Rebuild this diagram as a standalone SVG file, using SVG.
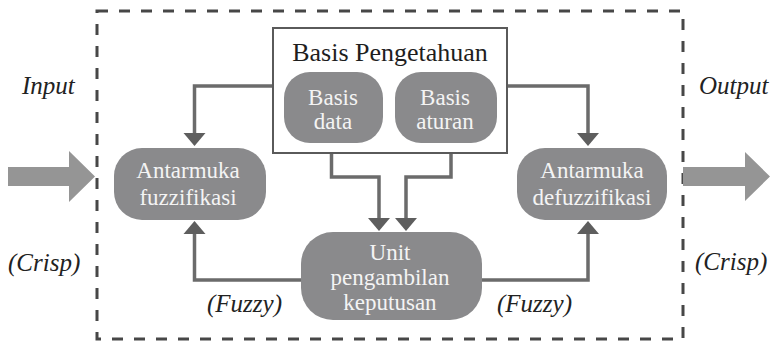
<svg xmlns="http://www.w3.org/2000/svg" width="777" height="342" viewBox="0 0 777 342">
<style>
.node{fill:#8a8a8c}
.nt{font-family:'Liberation Serif','Times New Roman','DejaVu Serif',serif;font-size:23px;fill:#f4f4f4;text-anchor:middle}
.lbl{font-family:'Liberation Serif','Times New Roman','DejaVu Serif',serif;font-size:25px;font-style:italic;fill:#222}
.title{font-family:'Liberation Serif','Times New Roman','DejaVu Serif',serif;font-size:26px;fill:#1e1e1e;text-anchor:middle}
.conn{fill:none;stroke:#6b6b6b;stroke-width:3.5}
.head{fill:#5e5e5e}
.big{fill:#959595}
</style>
<rect width="777" height="342" fill="#ffffff"/>
<rect x="97" y="11" width="586" height="328" fill="none" stroke="#474747" stroke-width="3" stroke-dasharray="11 11"/>
<g id="bigarrows">
<polygon class="big" points="8,167 69,167 69,151 95,176.5 69,202 69,186 8,186"/>
<polygon class="big" points="683,167 745,167 745,152 770,176.5 745,201 745,186 683,186"/>
</g>
<g id="labels">
<text class="lbl" x="22" y="94">Input</text>
<text class="lbl" x="699" y="94">Output</text>
<text class="lbl" x="8" y="271">(Crisp)</text>
<text class="lbl" x="695" y="270">(Crisp)</text>
<text class="lbl" x="207" y="312">(Fuzzy)</text>
<text class="lbl" x="497" y="312">(Fuzzy)</text>
</g>
<g id="connectors">
<polyline class="conn" points="273,86 194.5,86 194.5,134"/>
<polygon class="head" points="183.5,133 205.5,133 194.5,146"/>
<polyline class="conn" points="507,86 588,86 588,134"/>
<polygon class="head" points="577,133 599,133 588,146"/>
<polyline class="conn" points="331.5,143 331.5,177 379,177 379,219"/>
<polygon class="head" points="368,218 390,218 379,231"/>
<polyline class="conn" points="451,143 451,177 406,177 406,219"/>
<polygon class="head" points="395,218 417,218 406,231"/>
<polyline class="conn" points="301,280 194.5,280 194.5,233"/>
<polygon class="head" points="183.5,234 205.5,234 194.5,221"/>
<polyline class="conn" points="482,280 588,280 588,233"/>
<polygon class="head" points="577,234 599,234 588,221"/>
</g>
<g id="basis-pengetahuan">
<rect x="273" y="28" width="234" height="125" fill="#ffffff" stroke="#5a5a5a" stroke-width="2"/>
<text class="title" x="390" y="61">Basis Pengetahuan</text>
</g>
<g id="basis-data">
<rect class="node" x="284" y="72" width="99" height="71" rx="26"/>
<text class="nt" x="333" y="105">Basis</text>
<text class="nt" x="333" y="129">data</text>
</g>
<g id="basis-aturan">
<rect class="node" x="395" y="72" width="102" height="71" rx="26"/>
<text class="nt" x="445" y="105">Basis</text>
<text class="nt" x="445" y="129">aturan</text>
</g>
<g id="fuzzifikasi">
<rect class="node" x="114" y="148" width="152" height="72" rx="28"/>
<text class="nt" x="188" y="178">Antarmuka</text>
<text class="nt" x="188" y="205">fuzzifikasi</text>
</g>
<g id="defuzzifikasi">
<rect class="node" x="517" y="148" width="150" height="72" rx="28"/>
<text class="nt" x="592" y="178">Antarmuka</text>
<text class="nt" x="592" y="205">defuzzifikasi</text>
</g>
<g id="unit">
<rect class="node" x="301" y="232" width="181" height="88" rx="32"/>
<text class="nt" x="390" y="260">Unit</text>
<text class="nt" x="390" y="285">pengambilan</text>
<text class="nt" x="390" y="310">keputusan</text>
</g>
</svg>
